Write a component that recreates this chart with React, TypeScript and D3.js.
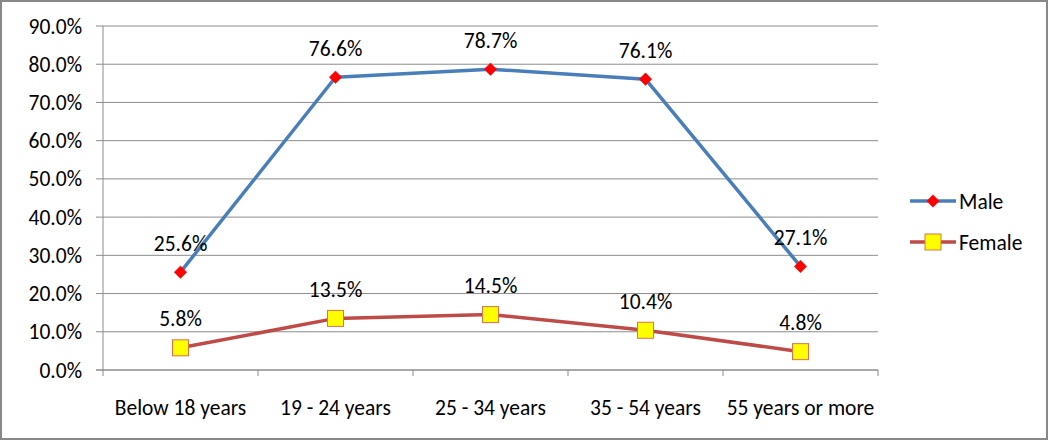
import * as d3 from 'd3';
import React from 'react';

const categories = ['Below 18 years', '19 - 24 years', '25 - 34 years', '35 - 54 years', '55 years or more'];
const maleValues = [25.6, 76.6, 78.7, 76.1, 27.1];
const femaleValues = [5.8, 13.5, 14.5, 10.4, 4.8];
const yTicks = [0, 10, 20, 30, 40, 50, 60, 70, 80, 90];

const W = 1050;
const H = 442;
const plot = { left: 103, right: 878, top: 26, bottom: 370 };
const font = "Carlito, 'Open Sans', 'Liberation Sans', sans-serif";
const fs = 21.5;

const App = () => {
  const x = d3.scaleBand().domain(categories).range([plot.left, plot.right]);
  const y = d3.scaleLinear().domain([0, 90]).range([plot.bottom, plot.top]);
  const cx = (c: string) => (x(c) as number) + x.bandwidth() / 2;
  const line = d3.line<number>().x((d, i) => cx(categories[i])).y(d => y(d));

  const series = [
    { name: 'Male', values: maleValues, color: '#4A7EBB' },
    { name: 'Female', values: femaleValues, color: '#BE4B48' },
  ];

  const marker = (name: string, px: number, py: number, key?: string) =>
    name === 'Male' ? (
      <path key={key} d={d3.symbol(d3.symbolDiamond2, 100)()!} transform={`translate(${px},${py})`}
        fill="#FF0000" stroke="#E01010" strokeWidth={0.5} />
    ) : (
      <rect key={key} x={px - 8} y={py - 8} width={16} height={16} fill="#FFFF00" stroke="#E0704A" strokeWidth={1} />
    );

  return (
    <svg width={W} height={H} style={{ position: 'absolute', left: 0, top: 0 }} fontFamily={font}>
      <rect x={1} y={1} width={W - 4} height={H - 4} fill="#fff" stroke="#888" strokeWidth={2} />
      {yTicks.map(t => (
        <g key={t}>
          <line x1={plot.left - 7} x2={plot.right} y1={y(t)} y2={y(t)} stroke="#8c8c8c" strokeWidth={1} />
          <text x={plot.left - 21} y={y(t)} dy="0.35em" textAnchor="end" fontSize={fs} fill="#000">
            {t.toFixed(1)}%
          </text>
        </g>
      ))}
      <line x1={plot.left} x2={plot.left} y1={plot.top} y2={plot.bottom} stroke="#8c8c8c" />
      <line x1={plot.left - 7} x2={plot.right} y1={plot.bottom} y2={plot.bottom} stroke="#8c8c8c" />
      {categories.concat(['end']).map((c, i) => {
        const tx = plot.left + i * x.bandwidth();
        return <line key={c} x1={tx} x2={tx} y1={plot.bottom} y2={plot.bottom + 6} stroke="#8c8c8c" />;
      })}
      {categories.map(c => (
        <text key={c} x={cx(c)} y={plot.bottom + 37} dy="0.35em" textAnchor="middle" fontSize={fs} fill="#000">{c}</text>
      ))}
      {series.map(s => (
        <g key={s.name}>
          <path d={line(s.values)!} fill="none" stroke={s.color} strokeWidth={3.5} strokeLinejoin="round" />
          {s.values.map((v, i) => marker(s.name, cx(categories[i]), y(v), `${s.name}${i}`))}
          {s.values.map((v, i) => (
            <text key={`l${i}`} x={cx(categories[i])} y={y(v) - 29} dy="0.35em" textAnchor="middle" fontSize={fs} fill="#000">
              {v.toFixed(1)}%
            </text>
          ))}
        </g>
      ))}
      {series.map((s, i) => {
        const ly = 201 + i * 41;
        return (
          <g key={`leg${s.name}`}>
            <line x1={910} x2={956} y1={ly} y2={ly} stroke={s.color} strokeWidth={3.5} />
            {marker(s.name, 933, ly)}
            <text x={959} y={ly} dy="0.35em" fontSize={fs} fill="#000">{s.name}</text>
          </g>
        );
      })}
    </svg>
  );
};

export default App;
